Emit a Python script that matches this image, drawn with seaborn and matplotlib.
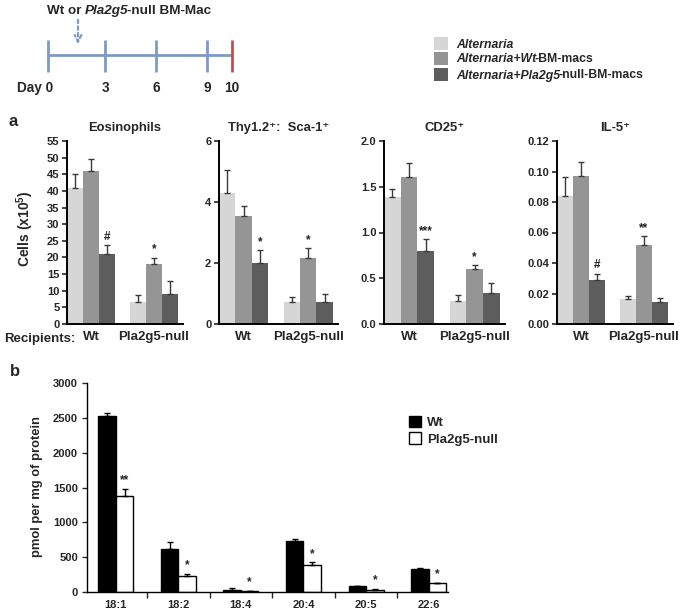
import numpy as np
import pandas as pd
import seaborn as sns
import matplotlib.pyplot as plt
from matplotlib.patches import Rectangle
from matplotlib.ticker import FixedLocator

# ---------------- data ----------------
treatments = ['Alternaria', 'Alternaria+Wt-BM-macs', 'Alternaria+Pla2g5-null-BM-macs']
recipients = ['Wt', 'Pla2g5-null']
# order: Wt (alt, wt-mac, null-mac), Pla2g5-null (alt, wt-mac, null-mac)
eos_means = [41.0, 46.0, 21.0, 6.5, 18.0, 9.0]
eos_errs = [4.0, 3.5, 2.6, 2.1, 1.9, 3.8]
eos_marks = ['', '', '#', '', '*', '']

thy_means = [4.3, 3.55, 2.0, 0.72, 2.15, 0.72]
thy_errs = [0.75, 0.33, 0.42, 0.18, 0.33, 0.28]
thy_marks = ['', '', '*', '', '*', '']

cd25_means = [1.39, 1.61, 0.80, 0.25, 0.60, 0.34]
cd25_errs = [0.09, 0.15, 0.13, 0.07, 0.04, 0.11]
cd25_marks = ['', '', '***', '', '*', '']

il5_means = [0.084, 0.097, 0.029, 0.0165, 0.052, 0.0145]
il5_errs = [0.0125, 0.0095, 0.004, 0.002, 0.0055, 0.0023]
il5_marks = ['', '', '#', '', '**', '']

fatty_acids = ['18:1', '18:2', '18:4', '20:4', '20:5', '22:6']
genotypes = ['Wt', 'Pla2g5-null']
wt_pmol = [2525, 620, 33, 730, 86, 335]
wt_err = [45, 95, 22, 32, 6, 12]
null_pmol = [1385, 225, 12, 390, 35, 125]
null_err = [100, 38, 4, 38, 10, 6]
null_marks = ['**', '*', '*', '*', '*', '*']

day_ticks = [0, 3, 6, 9, 10]

# ---------------- style ----------------
sns.set_theme(style='ticks')
plt.rcParams['font.family'] = ['Liberation Sans', 'DejaVu Sans']
plt.rcParams['font.weight'] = 'bold'
plt.rcParams['mathtext.fontset'] = 'custom'
plt.rcParams['mathtext.rm'] = 'Liberation Sans:bold'
plt.rcParams['mathtext.it'] = 'Liberation Sans:italic:bold'
plt.rcParams['mathtext.bf'] = 'Liberation Sans:bold'
plt.rcParams['mathtext.default'] = 'rm'

W, H = 685, 612
fig = plt.figure(figsize=(W / 100, H / 100), dpi=100)
fig.patch.set_facecolor('white')

def fbox(l, r, t, b):
    return [l / W, 1 - b / H, (r - l) / W, (b - t) / H]

colors_a = ['#d6d6d6', '#959595', '#5d5d5d']

panels = [
    ('Eosinophils', eos_means, eos_errs, eos_marks, (67, 183), 55, 5, '{:.0f}'),
    ('Thy1.2\u207a:  Sca-1\u207a', thy_means, thy_errs, thy_marks, (219, 338), 6, 2, '{:.0f}'),
    ('CD25\u207a', cd25_means, cd25_errs, cd25_marks, (384, 505), 2.0, 0.5, '{:.1f}'),
    ('IL-5\u207a', il5_means, il5_errs, il5_marks, (557, 673), 0.12, 0.02, '{:.2f}'),
]

for title, means, errs, marks, (l, r), ymax, step, fmt in panels:
    ax = fig.add_axes(fbox(l, r, 141, 324))
    df = pd.DataFrame({
        'recipient': np.repeat(recipients, 3),
        'treatment': treatments * 2,
        'value': means,
    })
    sns.barplot(data=df, x='recipient', y='value', hue='treatment', hue_order=treatments,
                palette=colors_a, width=0.76, errorbar=None, saturation=1,
                linewidth=0, legend=False, ax=ax)
    bar_conts = list(ax.containers)
    for hi, cont in enumerate(bar_conts):
        for ci, bar in enumerate(cont):
            k = ci * 3 + hi
            xc = bar.get_x() + bar.get_width() / 2
            top = bar.get_height()
            ax.errorbar(xc, top, yerr=[[0], [errs[k]]], fmt='none', ecolor='#3a3a3a',
                        elinewidth=1, capsize=2, capthick=1, zorder=3)
            if marks[k]:
                ax.text(xc, top + errs[k] + ymax * 0.012, marks[k], ha='center', va='bottom',
                        fontsize=8.5, fontweight='bold', color='#222222')
    ax.set_xlim(-0.38, 1.46)
    ax.set_ylim(0, ymax)
    ticks = np.arange(0, ymax + step / 2, step)
    ax.set_yticks(ticks)
    ax.set_yticklabels([fmt.format(v) for v in ticks])
    ax.set_xlabel('')
    ax.set_ylabel('')
    ax.tick_params(axis='x', length=0, pad=5, labelsize=9.5)
    ax.tick_params(axis='y', length=3.5, width=1.2, direction='out', labelsize=8, pad=2)
    for lab in ax.get_xticklabels() + ax.get_yticklabels():
        lab.set_fontweight('bold')
    for s in ['top', 'right']:
        ax.spines[s].set_visible(False)
    for s in ['left', 'bottom']:
        ax.spines[s].set_linewidth(1.4)
        ax.spines[s].set_color('black')
    ax.set_title(title, fontsize=9.4, fontweight='bold', pad=7)

# ---------------- panel b ----------------
axb = fig.add_axes(fbox(87, 448, 383, 592))
dfb = pd.DataFrame({
    'fa': fatty_acids * 2,
    'genotype': np.repeat(genotypes, len(fatty_acids)),
    'value': wt_pmol + null_pmol,
})
sns.barplot(data=dfb, x='fa', y='value', hue='genotype', hue_order=genotypes,
            palette={'Wt': 'black', 'Pla2g5-null': 'white'}, width=0.56, errorbar=None,
            saturation=1, edgecolor='black', linewidth=1, ax=axb)
errs_b = [wt_err, null_err]
bar_conts_b = list(axb.containers)
for hi, cont in enumerate(bar_conts_b):
    for ci, bar in enumerate(cont):
        xc = bar.get_x() + bar.get_width() / 2
        top = bar.get_height()
        axb.errorbar(xc, top, yerr=[[0], [errs_b[hi][ci]]], fmt='none', ecolor='black',
                     elinewidth=1, capsize=2, capthick=1, zorder=3)
        if hi == 1:
            axb.text(xc, top + errs_b[hi][ci] + 35, null_marks[ci], ha='center', va='bottom',
                     fontsize=8.5, fontweight='bold')
handles, labels = axb.get_legend_handles_labels()
if axb.get_legend() is not None:
    axb.get_legend().remove()
fig.legend(handles, labels, loc='upper left', bbox_to_anchor=(397 / W, 1 - 404 / H),
           frameon=False, handlelength=0.95, handleheight=0.95,
           handletextpad=0.45, labelspacing=0.25, prop={'weight': 'bold', 'size': 9.5})
axb.set_xlim(-0.46, 5.31)
axb.set_ylim(0, 3000)
axb.set_yticks(np.arange(0, 3001, 500))
axb.xaxis.set_minor_locator(FixedLocator([0.5, 1.5, 2.5, 3.5, 4.5]))
axb.tick_params(axis='x', which='major', length=0, pad=6, labelsize=8)
axb.tick_params(axis='x', which='minor', length=4, width=1, direction='out')
axb.tick_params(axis='y', length=3.5, width=1, direction='out', labelsize=8, pad=3)
for lab in axb.get_xticklabels() + axb.get_yticklabels():
    lab.set_fontweight('bold')
axb.set_xlabel('')
axb.set_ylabel('')
for s in ['top', 'right']:
    axb.spines[s].set_visible(False)
for s in ['left', 'bottom']:
    axb.spines[s].set_linewidth(1.0)
    axb.spines[s].set_color('black')

# ---------------- overlay: labels, timeline, legend ----------------
ov = fig.add_axes([0, 0, 1, 1], facecolor='none')
ov.set_xlim(0, W)
ov.set_ylim(H, 0)
ov.axis('off')

ov.text(13, 122, 'a', fontsize=12, fontweight='bold', va='center', ha='center')
ov.text(15, 371, 'b', fontsize=12, fontweight='bold', va='center', ha='center')
ov.text(25, 229, 'Cells (x10$^5$)', rotation=90, fontsize=10, fontweight='bold',
        ha='center', va='center')
ov.text(37, 487, 'pmol per mg of protein', rotation=90, fontsize=9.4, fontweight='bold',
        ha='center', va='center')
ov.text(4, 339, 'Recipients:', fontsize=9.5, fontweight='bold', ha='left', va='center')

# timeline
tl_color = '#7b99c9'
day_x = {0: 48, 3: 105, 6: 156, 9: 207, 10: 232}
ov.plot([day_x[0], day_x[10]], [55, 55], color=tl_color, lw=2, solid_capstyle='butt')
for d in day_ticks:
    c = '#c0504d' if d == 10 else tl_color
    ov.plot([day_x[d], day_x[d]], [40, 72], color=c, lw=2, solid_capstyle='butt')
    if d == 0:
        ov.text(day_x[d] + 5, 88, 'Day 0', ha='right', va='center', fontsize=9.8, fontweight='bold')
    else:
        ov.text(day_x[d], 88, str(d), ha='center', va='center', fontsize=9.8, fontweight='bold')
ov.annotate('', xy=(78, 47), xytext=(78, 17),
            arrowprops=dict(arrowstyle='->', linestyle=(0, (1.5, 1.5)), color=tl_color, lw=1.6,
                            mutation_scale=12))
t1 = ov.text(47, 17, 'Wt or ', fontsize=9.7, fontweight='bold', ha='left', va='bottom')
t2 = ov.annotate('Pla2g5', xy=(1, 0), xycoords=t1, fontsize=9.7, fontweight='bold',
                 style='italic', ha='left', va='bottom')
ov.annotate('-null BM-Mac', xy=(1, 0), xytext=(-1.5, 0), textcoords='offset points',
            xycoords=t2, fontsize=9.7, fontweight='bold', ha='left', va='bottom')

# treatment legend (mixed italic labels)
leg_items = [('Alternaria', ''), ('Alternaria+Wt', '-BM-macs'), ('Alternaria+Pla2g5', '-null-BM-macs')]
for (it, rm), col, yc in zip(leg_items, colors_a, [43, 58, 74]):
    ov.add_patch(Rectangle((434, yc - 6.5), 14, 13, facecolor=col, edgecolor='none'))
    ta = ov.text(456, yc + 4.5, it, fontsize=8.8, fontweight='bold', style='italic',
                 ha='left', va='baseline')
    if rm:
        ov.annotate(rm, xy=(1, 0), xytext=(-1, 0), textcoords='offset points', xycoords=ta,
                    fontsize=8.8, fontweight='bold', ha='left', va='bottom')

fig.savefig('out.png', dpi=100, facecolor='white')
